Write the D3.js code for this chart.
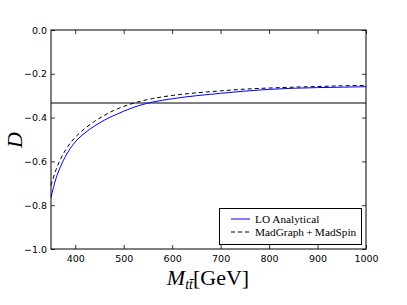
<!DOCTYPE html>
<html><head><meta charset="utf-8">
<script src="https://cdn.jsdelivr.net/npm/d3@7"></script>
<style>body{margin:0;background:#fff}svg{display:block}</style>
</head><body><svg id="c" width="407" height="305"></svg>
<script>
const mass = [350,360,370,380,390,400,420,440,460,480,500,530,560,600,650,700,750,800,850,900,950,1000];
const loAnalytical = [-0.765,-0.68,-0.622,-0.576,-0.54,-0.511,-0.47,-0.438,-0.412,-0.39,-0.371,-0.346,-0.329,-0.314,-0.3,-0.289,-0.279,-0.271,-0.266,-0.263,-0.261,-0.259];
const madGraph = [-0.71,-0.64,-0.588,-0.548,-0.516,-0.49,-0.45,-0.417,-0.39,-0.367,-0.349,-0.328,-0.313,-0.299,-0.287,-0.278,-0.27,-0.265,-0.261,-0.258,-0.255,-0.253];
const refLine = -1/3;
const xTicks = [400,500,600,700,800,900,1000];
const yTicks = [0,-0.2,-0.4,-0.6,-0.8,-1.0];
const legendLabels = ["LO Analytical","MadGraph\u2009+\u2009MadSpin"];

const svg = d3.select("#c");
const L=51, R=366, T=30, B=249;
const x = d3.scaleLinear().domain([350,1000]).range([L,R]);
const y = d3.scaleLinear().domain([-1,0]).range([B,T]);

const g = svg.append("g");
const line = (vals)=>d3.line().x((d,i)=>x(mass[i])).y(d=>y(d)).curve(d3.curveMonotoneX)(vals);
g.append("line").attr("x1",L).attr("x2",R).attr("y1",y(refLine)).attr("y2",y(refLine)).attr("stroke","#000").attr("stroke-width",1);
g.append("path").attr("d",line(loAnalytical)).attr("fill","none").attr("stroke","#0000ff").attr("stroke-width",1);
g.append("path").attr("d",line(madGraph)).attr("fill","none").attr("stroke","#000").attr("stroke-width",1).attr("stroke-dasharray","4,3");

const fmt = d=> (d<0?"\u2212":"")+Math.abs(d).toFixed(1);
const ax = g.append("g").attr("transform",`translate(0,${B})`).call(d3.axisBottom(x).tickValues(xTicks).tickSize(-4).tickPadding(6).tickFormat(d3.format("d")));
const axT = g.append("g").attr("transform",`translate(0,${T})`).call(d3.axisTop(x).tickValues(xTicks).tickSize(-4).tickFormat(""));
const ay = g.append("g").attr("transform",`translate(${L},0)`).call(d3.axisLeft(y).tickValues(yTicks).tickSize(-4).tickPadding(4).tickFormat(fmt));
const ayR = g.append("g").attr("transform",`translate(${R},0)`).call(d3.axisRight(y).tickValues(yTicks).tickSize(-4).tickFormat(""));
[ax,axT,ay,ayR].forEach(a=>{a.select(".domain").remove(); a.selectAll("line").attr("stroke","#000").attr("stroke-width",0.8); a.selectAll("text").attr("font-family","DejaVu Sans").attr("font-size",9.5).attr("fill","#000");});
g.append("rect").attr("x",L).attr("y",T).attr("width",R-L).attr("height",B-T).attr("fill","none").attr("stroke","#000").attr("stroke-width",1);

const xl = svg.append("text").attr("x",208).attr("y",285).attr("text-anchor","middle").attr("font-family","Liberation Serif").attr("font-size",22).attr("fill","#000");
xl.append("tspan").attr("font-style","italic").text("M");
xl.append("tspan").attr("font-style","italic").attr("font-size",14).attr("dy",4).text("t");
xl.append("tspan").attr("font-style","italic").attr("font-size",14).text("t\u0304");
xl.append("tspan").attr("dy",-4).text("[GeV]");
svg.append("text").attr("transform","translate(22,140) rotate(-90)").attr("text-anchor","middle").attr("font-family","Liberation Serif").attr("font-style","italic").attr("font-size",22).attr("fill","#000").text("D");

const lg = svg.append("g");
lg.append("rect").attr("x",219.5).attr("y",208.5).attr("width",142).attr("height",36).attr("fill","#fff").attr("stroke","#000").attr("stroke-width",1);
const rowsY=[219,232];
lg.append("line").attr("x1",231).attr("x2",250).attr("y1",rowsY[0]).attr("y2",rowsY[0]).attr("stroke","#0000ff").attr("stroke-width",1);
lg.append("line").attr("x1",231).attr("x2",250).attr("y1",rowsY[1]).attr("y2",rowsY[1]).attr("stroke","#000").attr("stroke-width",1).attr("stroke-dasharray","4,3");
legendLabels.forEach((t,i)=>lg.append("text").attr("x",255).attr("y",rowsY[i]+3.5).attr("font-family","Liberation Serif").attr("font-size",11.3).attr("fill","#000").text(t));
</script></body></html>
